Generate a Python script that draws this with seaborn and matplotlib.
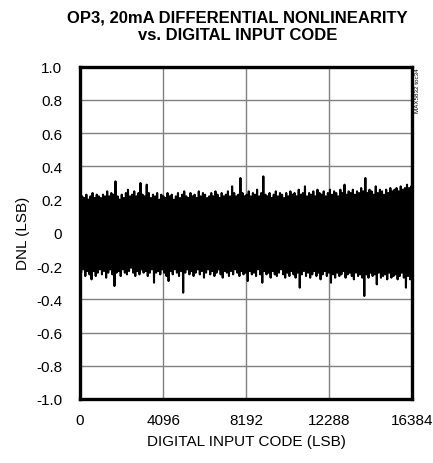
import numpy as np
import pandas as pd
import matplotlib
matplotlib.use("Agg")
import matplotlib.pyplot as plt
import seaborn as sns

# upper and lower envelope of the DNL trace (LSB)
dnl_high = [0.24, 0.22, 0.21, 0.23, 0.20, 0.22, 0.24, 0.21, 0.23, 0.22,
            0.21, 0.23, 0.22, 0.25, 0.22, 0.24, 0.23, 0.31, 0.22, 0.20,
            0.23, 0.21, 0.24, 0.26, 0.22, 0.23, 0.25, 0.22, 0.24, 0.30,
            0.23, 0.22, 0.29, 0.24, 0.21, 0.23, 0.22, 0.24, 0.20, 0.23,
            0.22, 0.21, 0.24, 0.22, 0.23, 0.20, 0.22, 0.24, 0.21, 0.23,
            0.25, 0.22, 0.21, 0.24, 0.22, 0.23, 0.21, 0.25, 0.22, 0.24,
            0.23, 0.21, 0.22, 0.24, 0.22, 0.25, 0.23, 0.21, 0.24, 0.22,
            0.23, 0.25, 0.22, 0.28, 0.24, 0.22, 0.23, 0.33, 0.24, 0.22,
            0.23, 0.25, 0.22, 0.24, 0.23, 0.26, 0.22, 0.24, 0.34, 0.23,
            0.22, 0.24, 0.21, 0.23, 0.25, 0.22, 0.24, 0.23, 0.21, 0.24,
            0.22, 0.25, 0.23, 0.24, 0.22, 0.26, 0.23, 0.24, 0.28, 0.22,
            0.24, 0.23, 0.25, 0.22, 0.26, 0.24, 0.23, 0.25, 0.22, 0.24,
            0.26, 0.23, 0.25, 0.24, 0.22, 0.26, 0.24, 0.29, 0.23, 0.25,
            0.24, 0.26, 0.23, 0.25, 0.24, 0.27, 0.25, 0.33, 0.24, 0.26,
            0.25, 0.23, 0.28, 0.24, 0.26, 0.25, 0.23, 0.26, 0.24, 0.27,
            0.25, 0.26, 0.27, 0.25, 0.28, 0.26, 0.27, 0.29, 0.27, 0.28]
dnl_low = [-0.24, -0.22, -0.26, -0.23, -0.25, -0.28, -0.23, -0.26, -0.24, -0.22,
           -0.25, -0.23, -0.27, -0.24, -0.22, -0.25, -0.32, -0.24, -0.23, -0.26,
           -0.22, -0.24, -0.25, -0.23, -0.21, -0.24, -0.26, -0.23, -0.25, -0.22,
           -0.24, -0.23, -0.26, -0.24, -0.22, -0.30, -0.24, -0.23, -0.25, -0.22,
           -0.24, -0.26, -0.29, -0.23, -0.25, -0.22, -0.24, -0.26, -0.23, -0.36,
           -0.24, -0.22, -0.25, -0.23, -0.26, -0.24, -0.22, -0.25, -0.23, -0.27,
           -0.24, -0.22, -0.25, -0.23, -0.26, -0.24, -0.22, -0.25, -0.27, -0.23,
           -0.24, -0.26, -0.23, -0.25, -0.22, -0.24, -0.26, -0.23, -0.25, -0.24,
           -0.29, -0.23, -0.25, -0.24, -0.26, -0.22, -0.25, -0.30, -0.23, -0.25,
           -0.24, -0.27, -0.23, -0.25, -0.26, -0.24, -0.22, -0.25, -0.27, -0.24,
           -0.26, -0.23, -0.25, -0.27, -0.24, -0.33, -0.25, -0.23, -0.26, -0.24,
           -0.27, -0.25, -0.23, -0.26, -0.24, -0.28, -0.25, -0.23, -0.26, -0.24,
           -0.30, -0.25, -0.27, -0.24, -0.26, -0.25, -0.23, -0.27, -0.25, -0.24,
           -0.26, -0.28, -0.24, -0.26, -0.25, -0.27, -0.38, -0.25, -0.27, -0.24,
           -0.26, -0.25, -0.31, -0.24, -0.27, -0.26, -0.25, -0.28, -0.24, -0.27,
           -0.26, -0.25, -0.28, -0.26, -0.24, -0.27, -0.33, -0.26, -0.28, -0.27]

x_ticks = [0, 4096, 8192, 12288, 16384]
y_ticks = [-1.0, -0.8, -0.6, -0.4, -0.2, 0, 0.2, 0.4, 0.6, 0.8, 1.0]
y_tick_labels = ["-1.0", "-0.8", "-0.6", "-0.4", "-0.2", "0", "0.2", "0.4", "0.6", "0.8", "1.0"]

# interleave high and low samples along the code axis
n = len(dnl_high)
codes = np.arange(2 * n) * (16383 / (2 * n - 1))
values = []
for hi, lo in zip(dnl_high, dnl_low):
    values.extend([hi, lo])
df = pd.DataFrame({"code": codes, "dnl": values})

sns.set_style("white")
plt.rcParams["font.family"] = ["Liberation Sans", "DejaVu Sans"]
plt.rcParams["text.color"] = "black"
plt.rcParams["axes.labelcolor"] = "black"

fig = plt.figure(figsize=(4.33, 4.64), dpi=100)
ax = fig.add_axes([0.185, 0.138, 0.767, 0.716])

sns.lineplot(data=df, x="code", y="dnl", ax=ax, color="black", linewidth=1.5)

ax.set_xlim(0, 16384)
ax.set_ylim(-1.0, 1.0)
ax.set_xticks(x_ticks)
ax.set_xticklabels([str(t) for t in x_ticks])
ax.set_yticks(y_ticks)
ax.set_yticklabels(y_tick_labels)
ax.tick_params(axis="y", length=0, labelsize=11, labelcolor="black", pad=13)
ax.tick_params(axis="x", length=0, labelsize=11, labelcolor="black", pad=10)
ax.grid(True, color="#808080", linewidth=1)
ax.set_axisbelow(True)
for s in ax.spines.values():
    s.set_color("black")
    s.set_linewidth(2.4)

ax.set_xlabel("DIGITAL INPUT CODE (LSB)", fontsize=11, labelpad=5, color="black")
ax.set_ylabel("DNL (LSB)", fontsize=11, labelpad=4, color="black")
fig.text(0.548, 0.978, "OP3, 20mA DIFFERENTIAL NONLINEARITY\nvs. DIGITAL INPUT CODE",
         ha="center", va="top", fontsize=12, fontweight="bold", linespacing=1.2,
         color="black")
fig.text(0.958, 0.852, "MAX5832 toc34", rotation=90, ha="left", va="top",
         fontsize=4.5, color="black",
         family=["Liberation Sans Narrow", "Liberation Sans", "DejaVu Sans"])

fig.savefig("out.png", dpi=100)
